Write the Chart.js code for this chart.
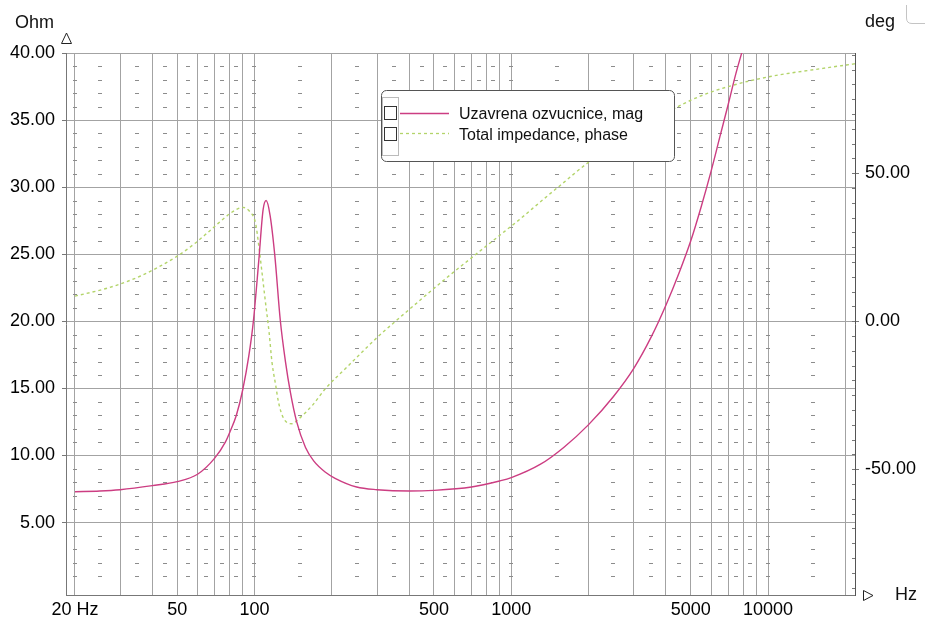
<!DOCTYPE html>
<html lang="en">
<head>
<meta charset="UTF-8">
<title>Impedance</title>
<script src="https://cdn.jsdelivr.net/npm/chart.js"></script>
<style>
  html, body { margin: 0; padding: 0; background: #fff; }
  #wrap { width: 925px; height: 623px; }
</style>
</head>
<body>
<div id="wrap"><canvas id="chart" width="925" height="623"></canvas></div>
<script>
// impedance magnitude, Ohm
const magFreq = [20, 25, 30, 40, 50, 60, 70, 77, 80, 85, 90, 95, 99, 104, 108, 111, 115, 120, 126, 132, 138, 146, 158, 170, 189, 206, 250, 300, 400, 500, 700, 900, 1000, 1300, 1600, 2000, 2500, 3000, 3500, 4000, 4500, 5000, 5500, 6000, 6500, 7000, 7500, 8000, 8500];
const magOhm  = [7.3, 7.35, 7.45, 7.75, 8.05, 8.6, 9.8, 11.0, 11.7, 13.0, 14.9, 17.4, 20.0, 24.6, 28.3, 29.0, 27.9, 24.9, 20.1, 17.0, 14.7, 12.5, 10.6, 9.6, 8.75, 8.3, 7.65, 7.45, 7.35, 7.4, 7.65, 8.1, 8.35, 9.35, 10.6, 12.3, 14.4, 16.5, 18.8, 21.2, 23.6, 26.0, 28.6, 31.2, 33.8, 36.2, 38.5, 40.4, 42.3];

// impedance phase, deg
const phaseFreq = [20, 26, 30, 36, 42, 50, 58, 65, 72, 80, 86, 90, 96, 101, 104, 107, 110, 114, 117, 121, 124, 130, 140, 149, 168, 190, 229, 300, 354, 417, 498, 596, 713, 804, 962, 1084, 1296, 1550, 1970, 3000, 4400, 5600, 7340, 9300, 11150, 15900, 20200, 21800];
const phaseDeg  = [8.5, 10.9, 12.6, 15.3, 18.2, 22.0, 26.0, 29.6, 33.0, 36.3, 38.0, 38.5, 37.0, 33.1, 25.3, 16.4, 7.4, -3.8, -13.9, -21.7, -27.3, -32.9, -34.6, -32.9, -28.4, -22.5, -15.5, -5.5, 0.0, 5.3, 11.0, 16.6, 22.0, 25.6, 31.0, 34.6, 40.3, 45.9, 53.3, 64.0, 72.3, 76.5, 79.8, 82.0, 83.3, 85.3, 86.6, 87.0];

const seriesNames = ['Uzavrena ozvucnice, mag', 'Total impedance, phase'];

const gridFreqs = [20, 30, 40, 50, 60, 70, 80, 90, 100, 200, 300, 400, 500, 600, 700, 800, 900, 1000, 2000, 3000, 4000, 5000, 6000, 7000, 8000, 9000, 10000, 20000];
const xLabels = {20: '20 Hz', 50: '50', 100: '100', 500: '500', 1000: '1000', 5000: '5000', 10000: '10000'};
const ohmTicks = [5, 10, 15, 20, 25, 30, 35, 40];
const degTicks = [-50, 0, 50];
const dashFreqs = [20, 25, 35, 45, 55, 65, 75, 85, 100, 150, 250, 350, 450, 550, 650, 750, 850, 1000, 1500, 2500, 3500, 4500, 5500, 6500, 7500, 8500, 10000, 15000];

const FONT = '"Liberation Sans", Arial, sans-serif';
const MAG_COLOR = '#cc3d82';
const PHASE_COLOR = '#b3d46a';
Chart.defaults.font.family = FONT;

const decor = {
    id: 'decor',
    beforeDatasetsDraw(chart) {
        const {ctx, chartArea, scales} = chart;
        ctx.save();
        // dotted minor grid
        ctx.fillStyle = '#8c8c8c';
        dashFreqs.forEach(f => {
            const x = Math.round(scales.x.getPixelForValue(f));
            for (let v = 1; v < 40; v++) {
                if (v % 5 === 0) continue;
                const y = Math.round(scales.y.getPixelForValue(v));
                ctx.fillRect(x - 2, y, 4, 1);
            }
        });
        // small inner ticks on the phase axis
        ctx.fillStyle = '#777';
        for (let d = -90; d <= 90; d += 5) {
            const y = Math.round(scales.y1.getPixelForValue(d));
            ctx.fillRect(chartArea.right - 3, y, 3, 1);
        }
        ctx.restore();
    },
    afterDraw(chart) {
        const ctx = chart.ctx;
        ctx.save();

        // legend box
        ctx.fillStyle = '#fff';
        ctx.strokeStyle = '#555';
        ctx.lineWidth = 1;
        ctx.beginPath();
        ctx.roundRect(381.5, 90.5, 293, 71, 5);
        ctx.fill();
        ctx.stroke();

        ctx.strokeStyle = '#777';
        ctx.setLineDash([1, 1]);
        ctx.strokeRect(382.5, 97.5, 16, 58);
        ctx.setLineDash([]);
        ctx.strokeStyle = '#333';
        ctx.strokeRect(384.5, 106.5, 12, 13);
        ctx.strokeRect(384.5, 127.5, 12, 13);

        ctx.lineWidth = 1.3;
        ctx.strokeStyle = MAG_COLOR;
        ctx.beginPath(); ctx.moveTo(400, 113.5); ctx.lineTo(449, 113.5); ctx.stroke();
        ctx.strokeStyle = PHASE_COLOR;
        ctx.setLineDash([3, 3]);
        ctx.beginPath(); ctx.moveTo(400, 133.5); ctx.lineTo(449, 133.5); ctx.stroke();
        ctx.setLineDash([]);

        ctx.fillStyle = '#111';
        ctx.font = '16px ' + FONT;
        ctx.textAlign = 'left';
        ctx.textBaseline = 'alphabetic';
        ctx.fillText(seriesNames[0], 459, 118.5);
        ctx.fillText(seriesNames[1], 459, 139.5);

        // axis titles
        ctx.font = '18px ' + FONT;
        ctx.fillText('Ohm', 15, 28);
        ctx.fillText('deg', 865, 27);
        ctx.fillText('Hz', 895, 600);

        // axis arrows
        ctx.lineWidth = 1;
        ctx.strokeStyle = '#222';
        ctx.fillStyle = '#fff';
        ctx.beginPath();
        ctx.moveTo(66.5, 33); ctx.lineTo(71.5, 43.5); ctx.lineTo(61.5, 43.5); ctx.closePath();
        ctx.fill(); ctx.stroke();
        ctx.beginPath();
        ctx.moveTo(863.5, 590.5); ctx.lineTo(873, 595.5); ctx.lineTo(863.5, 600.5); ctx.closePath();
        ctx.fill(); ctx.stroke();

        // corner mark top right
        ctx.strokeStyle = '#c4c4c4';
        ctx.beginPath();
        ctx.moveTo(906.5, 5); ctx.lineTo(906.5, 18);
        ctx.quadraticCurveTo(906.5, 23.5, 912, 23.5);
        ctx.lineTo(925, 23.5);
        ctx.stroke();

        ctx.restore();
    }
};

new Chart(document.getElementById('chart'), {
    type: 'line',
    data: {
        datasets: [{
            label: seriesNames[0],
            data: magFreq.map((f, i) => ({x: f, y: magOhm[i]})),
            yAxisID: 'y',
            borderColor: MAG_COLOR,
            borderWidth: 1.4,
            pointRadius: 0,
            cubicInterpolationMode: 'monotone',
            fill: false
        }, {
            label: seriesNames[1],
            data: phaseFreq.map((f, i) => ({x: f, y: phaseDeg[i]})),
            yAxisID: 'y1',
            borderColor: PHASE_COLOR,
            borderWidth: 1.4,
            borderDash: [3, 3],
            pointRadius: 0,
            cubicInterpolationMode: 'monotone',
            fill: false
        }]
    },
    options: {
        responsive: false,
        animation: false,
        events: [],
        layout: {padding: {top: 53, left: 0, right: 0, bottom: 0}},
        plugins: {legend: {display: false}, tooltip: {enabled: false}},
        scales: {
            x: {
                type: 'logarithmic',
                min: 18.45,
                max: 21800,
                afterBuildTicks: s => { s.ticks = gridFreqs.map(v => ({value: v})); },
                afterFit: s => { s.height = 28; },
                ticks: {
                    autoSkip: false, maxRotation: 0, padding: 4, color: '#000',
                    font: {size: 18},
                    callback: v => xLabels[v] || ''
                },
                grid: {color: '#a3a3a3', drawTicks: false},
                border: {color: '#777'}
            },
            y: {
                position: 'left',
                min: -0.4,
                max: 40,
                afterBuildTicks: s => { s.ticks = ohmTicks.map(v => ({value: v})); },
                afterFit: s => { s.width = 66; },
                ticks: {padding: 7, color: '#000', font: {size: 18}, callback: v => v.toFixed(2)},
                grid: {color: '#a3a3a3', tickLength: 4, tickColor: '#777'},
                border: {color: '#777'}
            },
            y1: {
                position: 'right',
                min: -92.47,
                max: 90.64,
                afterBuildTicks: s => { s.ticks = degTicks.map(v => ({value: v})); },
                afterFit: s => { s.width = 70; },
                ticks: {padding: 6, color: '#000', font: {size: 18}, callback: v => v.toFixed(2)},
                grid: {drawOnChartArea: false, tickLength: 4, tickColor: '#777'},
                border: {color: '#555'}
            }
        }
    },
    plugins: [decor]
});
</script>
</body>
</html>
